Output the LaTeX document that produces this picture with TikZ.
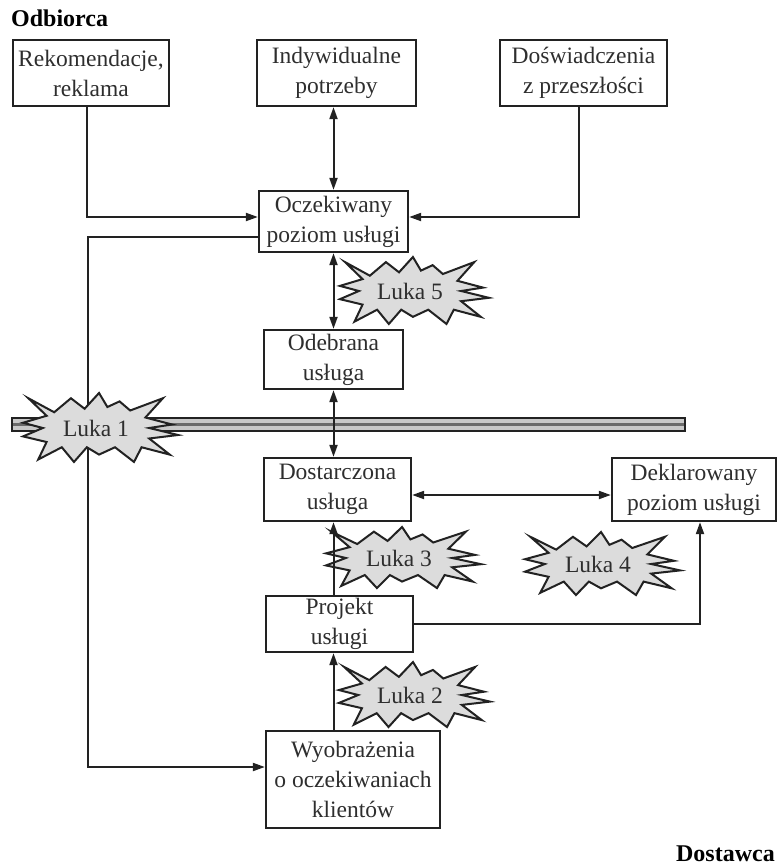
\documentclass[tikz,border=0pt]{standalone}
\usepackage{fontspec}
\setmainfont{Liberation Serif}
\usetikzlibrary{arrows.meta,calc}
\definecolor{ink}{HTML}{222222}
\definecolor{txt}{HTML}{2E2E2E}
\definecolor{starfill}{HTML}{DCDCDC}
\definecolor{bandfill}{HTML}{C8C8C8}
\definecolor{bandmid}{HTML}{6A6A6A}
\newcommand\starpath{(-0.89,0.85) -- (-0.55,0.45) -- (-0.33,0.85) -- (-0.15,0.55) -- (0.04,1.0) -- (0.15,0.6) -- (0.31,0.76) -- (0.45,0.5) -- (0.88,0.85) -- (0.65,0.3) -- (1.0,0.1) -- (0.7,0.0) -- (1.08,-0.2) -- (0.7,-0.3) -- (0.97,-0.76) -- (0.6,-0.55) -- (0.5,-0.97) -- (0.25,-0.55) -- (0.04,-0.76) -- (-0.12,-0.55) -- (-0.29,-0.97) -- (-0.45,-0.55) -- (-0.76,-0.9) -- (-0.65,-0.4) -- (-0.96,-0.24) -- (-0.7,0.0) -- (-0.96,0.15) -- (-0.65,0.35) -- cycle}
\newcommand\lukastar[6]{%
  \filldraw[starline, shift={(#2,#3)}, xscale=#4, yscale=-#5] \starpath;
  \node[startext] (#1) at (#2,#3) {#6};
}
\tikzset{
  box/.style 2 args={draw=ink, line width=2.3pt, text=txt, align=center, inner sep=0pt,
    minimum width=#1pt, minimum height=#2pt, font=\fontsize{23.5}{30}\selectfont},
  arr/.style={draw=ink, line width=2pt, -{Triangle[length=12pt,width=8pt]}},
  darr/.style={draw=ink, line width=2pt, {Triangle[length=12pt,width=8pt]}-{Triangle[length=12pt,width=8pt]}},
  starline/.style={draw=ink, fill=starfill, line width=2pt, line join=miter},
  startext/.style={text=txt, inner sep=0pt, font=\fontsize{23.5}{30}\selectfont},
  side/.style={inner sep=0pt, font=\fontsize{24}{28}\selectfont\bfseries}
}
\begin{document}
\begin{tikzpicture}[x=1pt,y=-1pt]
\useasboundingbox (0,0) rectangle (777,867);

% side labels
\node[side, anchor=base west] (odb) at (11,27) {Odbiorca};
\node[side, anchor=base east] (dsw) at (775,861) {Dostawca};

% boxes
\node[box={156}{66}] (rek) at (91,73) {Rekomendacje,\\reklama};
\node[box={159}{66}] (ind) at (336.5,73) {Indywidualne\\potrzeby};
\node[box={167}{66}] (dos) at (583.5,73) {Doświadczenia\\z przeszłości};
\node[box={149}{61}] (ocz) at (333.5,221.5) {Oczekiwany\\poziom usługi};
\node[box={139}{59}] (ode) at (333.5,359.5) {Odebrana\\usługa};
\node[box={147}{63}] (dst) at (337.5,489.5) {Dostarczona\\usługa};
\node[box={164}{63}] (dek) at (694,489.5) {Deklarowany\\poziom usługi};
\node[box={147}{56}] (prj) at (339.5,624) {Projekt\\usługi};
\node[box={174}{97}] (wyo) at (353,779.5) {Wyobrażenia\\o oczekiwaniach\\klientów};

% band
\draw[draw=ink, line width=1.5pt, fill=bandfill] (12,418) rectangle (685,431);
\draw[bandmid, line width=2.6pt] (13,424.5) -- (684,424.5);

% left feedback loop
\coordinate (c1) at (88,767);
\draw[arr] ([yshift=-15.5pt]ocz.west) -| (c1) -- ([yshift=12.5pt]wyo.west);

% Luka 1
\lukastar{l1}{96}{428}{76}{35}{Luka 1}

% stars
\lukastar{l5}{410}{291}{73}{34}{Luka 5}
\lukastar{l3}{399}{558}{76}{31}{Luka 3}
\lukastar{l4}{598}{564}{76}{32}{Luka 4}
\lukastar{l2}{410}{695}{74}{33}{Luka 2}

% connectors
\draw[arr] ([xshift=-4pt]rek.south) |- ([yshift=4.5pt]ocz.west);
\draw[arr] ([xshift=-4.5pt]dos.south) |- ([yshift=4.5pt]ocz.east);
\draw[darr] (ocz.north) -- (ocz.north |- ind.south);
\draw[darr] (ocz.south) -- (ocz.south |- ode.north);
\draw[darr] (ode.south) -- (ode.south |- dst.north);
\draw[darr] ([yshift=-5.5pt]dst.east) -- ([yshift=-5.5pt]dek.west);
\draw[arr] (ode.south |- prj.north) -- (ode.south |- dst.south);
\draw[arr] (ode.south |- wyo.north) -- (ode.south |- prj.south);
\draw[arr] (prj.east) -| ([xshift=6pt]dek.south);

\end{tikzpicture}
\end{document}
